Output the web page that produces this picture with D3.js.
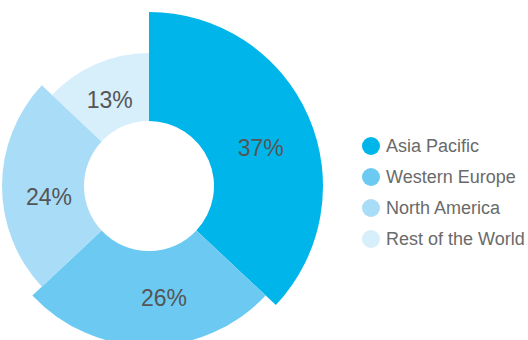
<!DOCTYPE html>
<html>
<head>
<meta charset="utf-8">
<script src="https://cdn.jsdelivr.net/npm/d3@7"></script>
<style>
    body { margin: 0; background: #fff; }
    text { font-family: "Liberation Sans", Arial, sans-serif; }
</style>
</head>
<body>
<div id="chart"></div>
<script>
const regions = ['Asia Pacific', 'Western Europe', 'North America', 'Rest of the World'];
const shares = [37, 26, 24, 13];
const colors = ['#00b5ea', '#6ccaf2', '#a9dcf7', '#d7eefb'];
// each slice sticks out a different amount
const outerRadii = [174, 160, 147, 133];
// small hand nudges so the labels sit where the original put them
const labelNudge = [[2, 9], [15, -1], [6, 11], [0, 5]];

const width = 528;
const height = 340;
const cx = 149;
const cy = 186;
const innerRadius = 65;

const svg = d3.select('#chart')
    .append('svg')
    .attr('width', width)
    .attr('height', height);

const pie = d3.pie().sort(null).value(d => d.value);
const slices = pie(regions.map((name, i) => ({ name, value: shares[i], r: outerRadii[i], color: colors[i], nudge: labelNudge[i] })));

const arc = d3.arc()
    .innerRadius(innerRadius)
    .outerRadius(d => d.data.r);

const g = svg.append('g').attr('transform', `translate(${cx},${cy})`);

g.selectAll('path')
    .data(slices)
    .enter()
    .append('path')
    .attr('d', arc)
    .attr('fill', d => d.data.color);

g.selectAll('text')
    .data(slices)
    .enter()
    .append('text')
    .attr('transform', d => {
        const [x, y] = arc.centroid(d);
        return `translate(${x + d.data.nudge[0]},${y + d.data.nudge[1]})`;
    })
    .attr('text-anchor', 'middle')
    .attr('dy', '0.35em')
    .attr('font-size', 23)
    .attr('fill', '#555')
    .text(d => d.data.value + '%');

// legend
const legend = svg.append('g').attr('transform', 'translate(371,146)');
const row = legend.selectAll('g')
    .data(regions)
    .enter()
    .append('g')
    .attr('transform', (d, i) => `translate(0,${i * 31})`);

row.append('circle')
    .attr('r', 9)
    .attr('fill', (d, i) => colors[i]);

row.append('text')
    .attr('x', 15)
    .attr('dy', '0.35em')
    .attr('font-size', 18)
    .attr('fill', '#6a6a6a')
    .text(d => d);
</script>
</body>
</html>
